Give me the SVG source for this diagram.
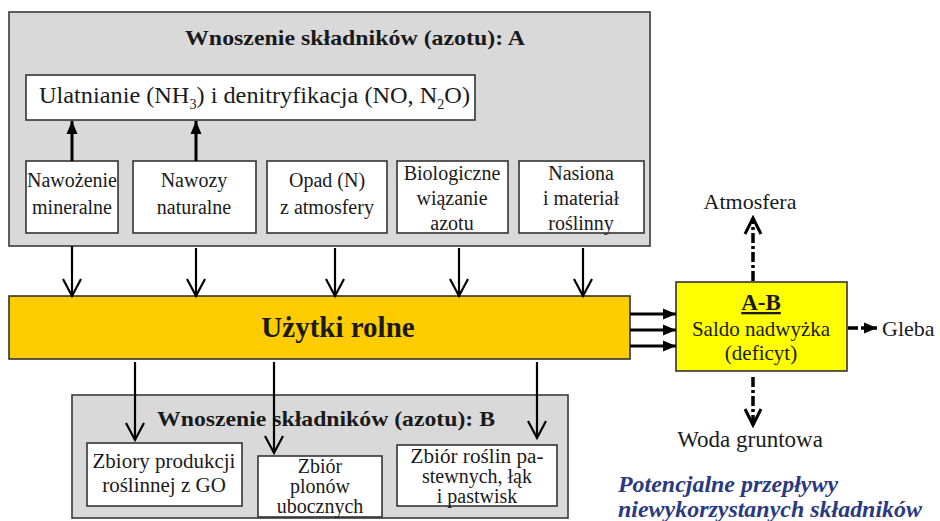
<svg xmlns="http://www.w3.org/2000/svg" width="940" height="521" viewBox="0 0 940 521" font-family="'Liberation Serif', 'Times New Roman', serif">
<style>
text{font-family:'Liberation Serif','Times New Roman',serif;fill:#1a1a1a}
.grp{fill:#d9d9d9;stroke:#3a3a3a;stroke-width:1.6}
.box{fill:#fff;stroke:#333;stroke-width:1.6}
.t{font-size:20px;text-anchor:middle}
.tb{font-size:21px;text-anchor:middle}
.ts{font-size:20px;text-anchor:middle}
.title{font-size:21px;font-weight:bold}
.lab{font-size:22px}
.note{font-size:23px;font-weight:bold;font-style:italic;fill:#2b3a80}
.ln{stroke:#000;stroke-width:2.2;fill:none}
.th{stroke:#000;stroke-width:3;fill:none}
.ds{stroke:#000;stroke-width:3.5;fill:none;stroke-dasharray:10 3 3 3}
</style>
<defs>
<marker id="open" markerUnits="userSpaceOnUse" markerWidth="22" markerHeight="22" viewBox="0 0 22 22" refX="19" refY="11" orient="auto">
<path d="M2,2 L19,11 L2,20" fill="none" stroke="#000" stroke-width="2.2"/>
</marker>
<marker id="openB" markerUnits="userSpaceOnUse" markerWidth="22" markerHeight="22" viewBox="0 0 22 22" refX="19" refY="11" orient="auto">
<path d="M3,3 L19,11 L3,19" fill="none" stroke="#000" stroke-width="3"/>
</marker>
<marker id="tri" markerUnits="userSpaceOnUse" markerWidth="14" markerHeight="14" viewBox="0 0 14 14" refX="13" refY="7" orient="auto">
<path d="M0,1.5 L13,7 L0,12.5 z" fill="#000"/>
</marker>
</defs>

<g id="groupA">
<rect class="grp" x="9" y="12" width="641" height="234"/>
<text class="title" x="185" y="45" textLength="340" lengthAdjust="spacingAndGlyphs">Wnoszenie składników (azotu): A</text>
</g>

<g id="ulatnianie">
<rect class="box" x="26" y="75" width="449" height="45"/>
<text x="39" y="103" style="font-size:24px" textLength="431" lengthAdjust="spacingAndGlyphs">Ulatnianie (NH<tspan dy="6" style="font-size:14px">3</tspan><tspan dy="-6">) i denitryfikacja (NO, N</tspan><tspan dy="6" style="font-size:14px">2</tspan><tspan dy="-6">O)</tspan></text>
</g>

<g id="nawozenie">
<rect class="box" x="26" y="161" width="92" height="72"/>
<text class="t" x="72" y="187">Nawożenie</text>
<text class="t" x="72" y="214">mineralne</text>
</g>
<g id="nawozy">
<rect class="box" x="133" y="161" width="123" height="72"/>
<text class="t" x="194" y="187">Nawozy</text>
<text class="t" x="194" y="214">naturalne</text>
</g>
<g id="opad">
<rect class="box" x="267" y="161" width="120" height="72"/>
<text class="t" x="327" y="187">Opad (N)</text>
<text class="t" x="327" y="214">z atmosfery</text>
</g>
<g id="biologiczne">
<rect class="box" x="397" y="161" width="111" height="72"/>
<text class="t" x="452" y="180">Biologiczne</text>
<text class="t" x="452" y="205">wiązanie</text>
<text class="t" x="452" y="230">azotu</text>
</g>
<g id="nasiona">
<rect class="box" x="519" y="161" width="125" height="72"/>
<text class="t" x="581" y="180">Nasiona</text>
<text class="t" x="581" y="205">i materiał</text>
<text class="t" x="581" y="230">roślinny</text>
</g>

<g id="uzytki">
<rect x="9" y="296" width="621" height="63" fill="#ffcc00" stroke="#333" stroke-width="1.6"/>
<text x="338" y="337" style="font-size:29px;font-weight:bold;text-anchor:middle">Użytki rolne</text>
</g>

<g id="saldo">
<rect x="676" y="282" width="171" height="89" fill="#ffff00" stroke="#333" stroke-width="1.6"/>
<text x="761" y="310" style="font-size:23px;font-weight:bold;text-anchor:middle;text-decoration:underline">A-B</text>
<text x="761" y="336" style="font-size:21px;text-anchor:middle">Saldo nadwyżka</text>
<text x="761" y="360" style="font-size:21px;text-anchor:middle">(deficyt)</text>
</g>

<g id="groupB">
<rect class="grp" x="72" y="395" width="496" height="123"/>
<text class="title" x="157" y="426" textLength="338" lengthAdjust="spacingAndGlyphs">Wnoszenie składników (azotu): B</text>
</g>
<g id="zbiory">
<rect class="box" x="87" y="443" width="155" height="63"/>
<text class="tb" x="164" y="468">Zbiory produkcji</text>
<text class="tb" x="164" y="492">roślinnej z GO</text>
</g>
<g id="plony">
<rect class="box" x="258" y="456" width="124" height="61"/>
<text class="ts" x="320" y="473">Zbiór</text>
<text class="ts" x="320" y="493">plonów</text>
<text class="ts" x="320" y="513">ubocznych</text>
</g>
<g id="pastwiska">
<rect class="box" x="397" y="445" width="160" height="61"/>
<text class="ts" x="477" y="463" textLength="133" lengthAdjust="spacingAndGlyphs">Zbiór roślin pa-</text>
<text class="ts" x="477" y="483">stewnych, łąk</text>
<text class="ts" x="477" y="503">i pastwisk</text>
</g>

<g id="atmosfera"><text class="lab" x="750" y="209" text-anchor="middle">Atmosfera</text></g>
<g id="gleba"><text class="lab" x="882" y="336">Gleba</text></g>
<g id="woda"><text class="lab" x="750" y="447" text-anchor="middle" style="font-size:23px">Woda gruntowa</text></g>
<g id="note">
<text class="note" x="618" y="492" textLength="220" lengthAdjust="spacingAndGlyphs">Potencjalne przepływy</text>
<text class="note" x="618" y="517" textLength="304" lengthAdjust="spacingAndGlyphs">niewykorzystanych składników</text>
</g>

<g id="connectors">
<line class="th" x1="72" y1="161" x2="72" y2="121" marker-end="url(#tri)"/>
<line class="th" x1="196" y1="161" x2="196" y2="121" marker-end="url(#tri)"/>
<line class="ln" x1="72" y1="246" x2="72" y2="296" marker-end="url(#open)"/>
<line class="ln" x1="196" y1="248" x2="196" y2="296" marker-end="url(#open)"/>
<line class="ln" x1="335" y1="248" x2="335" y2="296" marker-end="url(#open)"/>
<line class="ln" x1="459" y1="248" x2="459" y2="296" marker-end="url(#open)"/>
<line class="ln" x1="583" y1="248" x2="583" y2="296" marker-end="url(#open)"/>
<line class="ln" x1="135" y1="362" x2="135" y2="440" marker-end="url(#open)"/>
<line class="ln" x1="274" y1="362" x2="274" y2="453" marker-end="url(#open)"/>
<line class="ln" x1="537" y1="362" x2="537" y2="438" marker-end="url(#open)"/>
<line class="th" x1="630" y1="314" x2="676" y2="314" marker-end="url(#tri)"/>
<line class="th" x1="630" y1="330" x2="676" y2="330" marker-end="url(#tri)"/>
<line class="th" x1="630" y1="346" x2="676" y2="346" marker-end="url(#tri)"/>
<line class="ds" x1="753" y1="281" x2="753" y2="218" marker-end="url(#openB)"/>
<line class="ds" x1="848" y1="328" x2="877" y2="328" marker-end="url(#tri)"/>
<line class="ds" x1="753" y1="377" x2="753" y2="425" marker-end="url(#openB)"/>
</g>
</svg>
